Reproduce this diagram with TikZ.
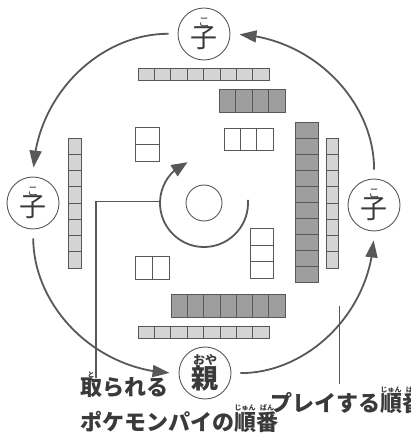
\documentclass[tikz,border=0pt]{standalone}
\usepackage{fontspec}
\setmainfont{Noto Sans CJK JP}
\usetikzlibrary{arrows.meta,bending}
\definecolor{lineg}{HTML}{585858}
\definecolor{tileg}{HTML}{9E9E9E}
\definecolor{sideg}{HTML}{D4D4D4}
\definecolor{textg}{HTML}{3A3A3A}
\newcommand{\furi}[3][7]{\leavevmode\vbox{\offinterlineskip\halign{\hfil##\hfil\cr\fontsize{#1}{#1}\selectfont #3\cr\noalign{\kern0.5pt}#2\cr}}}
\tikzset{player/.style={
  shape=circle,
  draw=lineg,
  line width=0.9pt,
  minimum size=52pt,
  inner sep=0pt,
  text=textg,
  font=\fontsize{27}{27}\selectfont,
  }
}
\tikzset{hub/.style={
  shape=circle,
  draw=lineg,
  line width=0.9pt,
  minimum size=36pt,
  inner sep=0pt,
  }
}
\tikzset{turn/.style={
  draw=lineg,
  line width=1.8pt,
  -{Triangle[length=17pt,width=12pt]},
  shorten <=9pt,
  shorten >=9pt,
  }
}
\tikzset{spin/.style={draw=lineg, line width=1.8pt, -{Triangle[length=16pt,width=13pt]}}}
\tikzset{lead/.style={draw=lineg, line width=1.4pt}}
\tikzset{lbl/.style={inner sep=0pt, anchor=base west, text=textg, font=\fontsize{22}{22}\selectfont\bfseries}}
\tikzset{hand/.style={draw=lineg, line width=0.8pt, fill=white}}
\tikzset{meld/.style={draw=lineg, line width=0.8pt, fill=tileg}}
\tikzset{wall/.style={draw=lineg, line width=0.7pt, fill=sideg}}

\begin{document}
\begin{tikzpicture}[x=1pt,y=1pt]
  \useasboundingbox (0,0) rectangle (411,434);
  \coordinate (ring) at (204,230);
  \node[player] (ko1) at (204,400) {\furi[12]{子}{こ}};
  \node[player] (ko2) at (33,231) {\furi[12]{子}{こ}};
  \node[player] (ko3) at (374,229) {\furi[12]{子}{こ}};
  \node[player, font=\fontsize{27}{27}\selectfont\bfseries] (oya) at (205,61) {\furi[12]{親}{おや}};

  \draw[turn] (ko1) to[bend right=45] (ko2);
  \draw[turn] (ko2) to[bend right=45] (oya);
  \draw[turn] (oya) to[bend right=45] (ko3);
  \draw[turn] (ko3) to[bend right=45] (ko1);

  \foreach \i in {0,...,7} {
    \draw[wall] (138+16.4*\i,354) rectangle ++(16.4,12);
    \draw[wall] (138+16.4*\i,96) rectangle ++(16.4,12);
    \draw[wall] (68,166+16.25*\i) rectangle ++(13,16.25);
    \draw[wall] (326,166+16.25*\i) rectangle ++(12,16.25);
  }
  \foreach \i in {0,...,3} \draw[meld] (219+16.5*\i,322) rectangle ++(16.5,23);
  \foreach \i in {0,...,6} \draw[meld] (171+16.3*\i,117) rectangle ++(16.3,23);
  \foreach \i in {0,...,9} \draw[meld] (295,152+16*\i) rectangle ++(23,16);
  \foreach \i in {0,1} \draw[hand] (135,273+17*\i) rectangle ++(24,17);
  \foreach \i in {0,1,2} \draw[hand] (224+16.4*\i,284) rectangle ++(16.4,22);
  \foreach \i in {0,1} \draw[hand] (135+17*\i,155) rectangle ++(17,23);
  \foreach \i in {0,1,2} \draw[hand] (250,156+16.4*\i) rectangle ++(23,16.4);

  \node[hub] (hub) at (204,231) {};
  \draw[spin] (hub.center) ++(4:44) arc[start angle=4, end angle=-248, radius=44];
  \path (hub.center) ++(178:44) coordinate (sj);
  \path (ring) ++(-37:170) coordinate (rj);

  \node[lbl] (taken) at (80,38) {\furi{取}{と}られる};
  \node[lbl] (order) at (80,4) {ポケモンパイの\furi{順}{じゅん}\furi{番}{ばん}};
  \node[lbl] (play) at (270,22) {プレイする\furi{順}{じゅん}\furi{番}{ばん}};

  \draw[lead] (sj) -| ([xshift=16pt,yshift=-6pt]taken.north west);
  \draw[lead] (rj) -- ([yshift=2pt]rj |- play.north);
\end{tikzpicture}
\end{document}
